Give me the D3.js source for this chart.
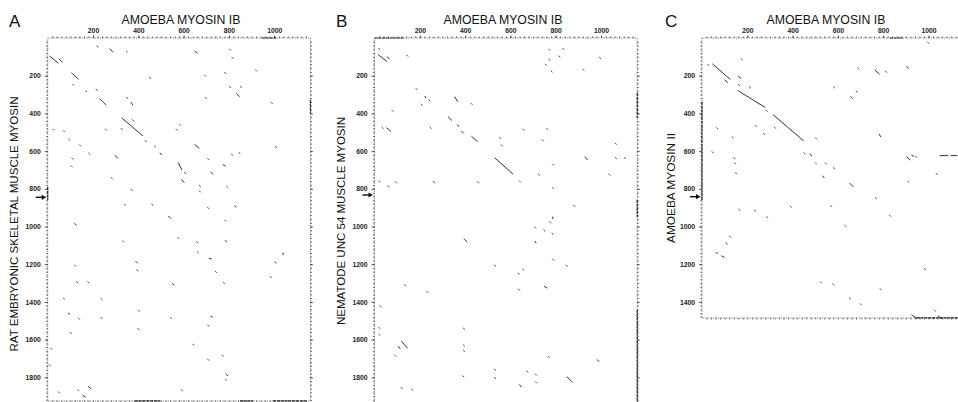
<!DOCTYPE html>
<html lang="en">
  <head>
    <meta charset="utf-8" />
    <title>Dot plots against amoeba myosin IB</title>
    <script src="https://d3js.org/d3.v7.min.js"></script>
    <style>
      body { margin: 0; background: #fff; }
      svg { display: block; font-family: 'Liberation Sans', Arial, sans-serif; }
      .tick text { font-size: 6.8px; font-weight: 700; fill: #222; opacity: 0.99; }
      .tick line { stroke: #333; stroke-width: 0.8; }
      .domain { display: none; }
    </style>
  </head>

  <body>
    <svg width="958" height="402"></svg>
  </body>
  <script>
    // Axis text and tick labels
    const panelLetters = ['A', 'B', 'C'];
    const xTitle = 'AMOEBA MYOSIN IB';
    const yTitles = [
      'RAT EMBRYONIC SKELETAL MUSCLE MYOSIN',
      'NEMATODE UNC 54 MUSCLE MYOSIN',
      'AMOEBA MYOSIN II'
    ];
    const xTicks = [200, 400, 600, 800, 1000];
    const yTicksA = [200, 400, 600, 800, 1000, 1200, 1400, 1600, 1800];
    const yTicksB = [200, 400, 600, 800, 1000, 1200, 1400, 1600, 1800];
    const yTicksC = [200, 400, 600, 800, 1000, 1200, 1400];

    // Sequence lengths (residues) and the arrow on each y axis
    const lengthX = 1160;
    const lengthsY = [1925, 1966, 1485];
    const arrowsY = [845, 833, 842];

    // Diagonal runs of matches: [x1, y1, x2, y2] in residues
    const segmentsA = [
      [10, 97, 46, 133], [51, 111, 63, 127], [106, 186, 135, 218], [169, 281, 173, 285],
      [231, 324, 257, 354], [275, 58, 287, 74], [368, 342, 375, 354], [327, 424, 419, 518],
      [297, 623, 309, 637], [496, 610, 502, 619], [650, 566, 668, 584], [650, 71, 660, 80],
      [577, 663, 592, 699], [592, 752, 602, 766], [720, 711, 729, 722], [775, 672, 784, 679],
      [834, 295, 846, 310], [534, 946, 543, 957], [119, 985, 126, 992], [827, 890, 831, 897],
      [784, 1074, 790, 1082], [713, 1169, 722, 1172], [1038, 1141, 1040, 1150],
      [1004, 1187, 1008, 1194], [389, 1185, 396, 1194], [551, 1303, 557, 1310],
      [91, 1459, 98, 1466], [720, 1477, 727, 1480], [787, 1783, 795, 1792],
      [179, 1848, 190, 1860], [155, 1896, 166, 1905]
    ];
    const segmentsB = [
      [17, 89, 54, 124], [58, 100, 64, 110], [223, 310, 226, 317], [355, 313, 366, 336],
      [326, 419, 341, 437], [366, 460, 372, 469], [385, 495, 392, 504], [429, 522, 454, 549],
      [54, 477, 72, 495], [532, 637, 610, 720], [929, 631, 940, 646], [260, 761, 266, 769],
      [786, 950, 788, 959], [709, 1079, 713, 1088], [396, 1066, 408, 1082],
      [750, 1318, 761, 1326], [120, 1610, 145, 1645], [105, 1636, 113, 1648],
      [984, 1707, 991, 1716], [850, 1798, 873, 1825], [640, 1839, 649, 1851]
    ];
    const segmentsC = [
      [47, 138, 124, 219], [102, 223, 112, 237], [160, 202, 171, 214], [160, 280, 278, 368],
      [315, 408, 448, 545], [477, 615, 484, 626], [533, 732, 539, 741], [656, 311, 664, 320],
      [764, 170, 783, 191], [904, 152, 911, 161], [783, 511, 789, 524], [904, 630, 918, 647],
      [926, 621, 934, 628], [653, 771, 668, 789], [1051, 624, 1085, 624], [1100, 624, 1125, 624],
      [106, 1086, 112, 1093], [62, 1139, 68, 1142], [87, 1156, 97, 1163],
      [926, 1469, 948, 1487], [1043, 1475, 1058, 1487]
    ];

    // Single matches: [x, y] in residues
    const dotsA = [
      [113, 248], [216, 274], [220, 45], [349, 71], [351, 318], [452, 212], [378, 437],
      [257, 486], [327, 483], [25, 486], [72, 495], [95, 540], [143, 570], [184, 614],
      [433, 548], [474, 575], [109, 640], [106, 681], [283, 743], [371, 805], [584, 460],
      [570, 486], [695, 200], [699, 318], [709, 642], [606, 716], [672, 784], [672, 814],
      [793, 790], [814, 619], [846, 610], [805, 62], [816, 106], [805, 260], [853, 260],
      [920, 172], [784, 186], [989, 345], [1008, 578],
      [341, 884], [462, 884], [709, 902], [784, 969], [577, 1061], [334, 1079], [661, 1084],
      [662, 1137], [396, 1233], [121, 1208], [743, 1241], [985, 1268], [131, 1296],
      [179, 1296], [778, 1300], [72, 1383], [238, 1385], [138, 1489], [238, 1485],
      [403, 1447], [543, 1485], [709, 1526], [400, 1544], [102, 1565], [643, 1627],
      [15, 1648], [773, 1685], [709, 1707], [10, 1737], [787, 1813], [135, 1869],
      [50, 1880], [592, 1869]
    ];
    const dotsB = [
      [21, 58], [145, 94], [186, 271], [242, 331], [208, 354], [429, 350], [79, 386],
      [36, 477], [248, 477], [554, 530], [562, 570], [657, 486], [743, 543], [763, 483],
      [772, 62], [757, 142], [772, 115], [782, 177], [816, 98], [834, 58], [996, 106],
      [922, 168], [789, 672], [726, 725], [642, 761], [1066, 561], [1066, 637], [1106, 637],
      [1037, 725], [789, 796], [21, 761], [61, 787], [95, 766], [458, 766],
      [882, 890], [777, 978], [709, 1005], [750, 1022], [786, 1038], [789, 1176],
      [848, 1208], [532, 1208], [657, 1229], [637, 1250], [638, 1335], [135, 1312],
      [233, 1347], [27, 1424], [21, 1538], [21, 1574], [395, 1542], [395, 1631],
      [395, 1659], [91, 1685], [770, 1692], [675, 1769], [532, 1760], [532, 1804],
      [392, 1795], [713, 1786], [713, 1827], [120, 1857], [167, 1866]
    ];
    const dotsC = [
      [28, 143], [163, 249], [175, 113], [212, 262], [286, 386], [68, 479], [238, 467],
      [274, 509], [322, 476], [135, 527], [47, 606], [143, 638], [146, 665], [150, 718],
      [452, 612], [503, 532], [503, 665], [547, 665], [583, 691], [583, 262], [690, 161],
      [683, 285], [812, 179], [768, 850], [911, 762], [1036, 721], [999, 25], [945, 630],
      [165, 912], [234, 916], [288, 951], [392, 895], [570, 891], [633, 997], [830, 943],
      [124, 1054], [985, 1226], [525, 1296], [580, 1307], [789, 1333], [653, 1381],
      [702, 1413], [1029, 1447]
    ];

    // Darker stretches of the plot frame: [x1, y1, x2, y2] in residues
    const edgesA = [
      [946, 0, 1012, 0], [1160, 329, 1160, 398], [0, 790, 0, 859],
      [385, 1925, 496, 1925], [849, 1925, 907, 1925], [995, 1925, 1145, 1925]
    ];
    const edgesB = [
      [0, 0, 128, 0], [1160, 291, 1160, 424], [1160, 859, 1160, 950], [1160, 1443, 1160, 1966]
    ];
    const edgesC = [
      [830, 0, 887, 0], [0, 340, 0, 860], [948, 1485, 1160, 1485]
    ];

    const svg = d3.select('svg');

    // Pixel layout of the three panels
    const lefts = [47.7, 374.5, 702];
    const plotTop = 38;
    const pxPerResX = 0.2265;
    const pxPerResY = 0.1885;
    const titleX = [181, 503, 826];
    const letterX = [9, 336, 665];
    const yTitleX = [14, 341, 671];
    const yTitleMid = [224, 221, 188];
    const yTitleLen = [255, 208, 110];

    const panels = [
      { yTicks: yTicksA, segs: segmentsA, dots: dotsA, edges: edgesA },
      { yTicks: yTicksB, segs: segmentsB, dots: dotsB, edges: edgesB },
      { yTicks: yTicksC, segs: segmentsC, dots: dotsC, edges: edgesC }
    ];

    panels.forEach((p, i) => {
      const lenY = lengthsY[i];
      const x = d3.scaleLinear()
            .domain([0, lengthX])
            .range([lefts[i], lefts[i] + lengthX * pxPerResX]);
      const y = d3.scaleLinear()
            .domain([0, lenY])
            .range([plotTop, plotTop + lenY * pxPerResY]);
      const g = svg.append('g');
      const [x0, x1] = x.range();
      const [y0, y1] = y.range();

      // dotted frame
      g.append('rect')
        .attr('x', x0).attr('y', y0)
        .attr('width', x1 - x0).attr('height', y1 - y0)
        .attr('fill', 'none')
        .attr('stroke', '#555')
        .attr('stroke-width', 0.7)
        .attr('stroke-dasharray', '1.4 1.2');

      // minor ticks every 20 residues
      const minorX = d3.range(20, lengthX, 20);
      const minorY = d3.range(20, lenY, 20);
      g.append('g').attr('transform', `translate(0, ${y0})`)
        .call(d3.axisTop(x).tickValues(minorX).tickSize(1.5).tickFormat(''));
      g.append('g').attr('transform', `translate(0, ${y1})`)
        .call(d3.axisBottom(x).tickValues(minorX).tickSize(1.5).tickFormat(''));
      g.append('g').attr('transform', `translate(${x0}, 0)`)
        .call(d3.axisLeft(y).tickValues(minorY).tickSize(1.5).tickFormat(''));
      g.append('g').attr('transform', `translate(${x1}, 0)`)
        .call(d3.axisRight(y).tickValues(minorY).tickSize(1.5).tickFormat(''));

      // labelled ticks
      g.append('g').attr('transform', `translate(0, ${y0})`)
        .call(d3.axisTop(x).tickValues(xTicks).tickSize(2.5).tickPadding(3).tickFormat(d3.format('d')));
      g.append('g').attr('transform', `translate(${x0}, 0)`)
        .call(d3.axisLeft(y).tickValues(p.yTicks).tickSize(3).tickPadding(4).tickFormat(d3.format('d')));
      g.append('g').attr('transform', `translate(${x1}, 0)`)
        .call(d3.axisRight(y).tickValues(p.yTicks).tickSize(2.5).tickFormat(''));

      g.selectAll('.tick line').attr('stroke', '#333');
      g.selectAll('.tick text').attr('fill', '#222');

      // heavier bits of the frame
      g.selectAll('line.edge')
        .data(p.edges)
        .join('line')
        .attr('class', 'edge')
        .attr('x1', d => x(d[0])).attr('y1', d => y(d[1]))
        .attr('x2', d => x(d[2])).attr('y2', d => y(d[3]))
        .attr('stroke', '#222')
        .attr('stroke-width', 1.2)
        .attr('stroke-dasharray', '3 0.8');

      // matching runs
      g.selectAll('line.seg')
        .data(p.segs)
        .join('line')
        .attr('class', 'seg')
        .attr('x1', d => x(d[0])).attr('y1', d => y(d[1]))
        .attr('x2', d => x(d[2])).attr('y2', d => y(d[3]))
        .attr('stroke', '#1a1a1a')
        .attr('stroke-width', 0.9)
        .attr('stroke-linecap', 'round');

      // single matches as tiny diagonal ticks
      g.selectAll('line.dot')
        .data(p.dots)
        .join('line')
        .attr('class', 'dot')
        .attr('x1', d => x(d[0]) - 0.6).attr('y1', d => y(d[1]) - 0.6)
        .attr('x2', d => x(d[0]) + 0.6).attr('y2', d => y(d[1]) + 0.6)
        .attr('stroke', '#444')
        .attr('stroke-width', 1)
        .attr('stroke-linecap', 'round');

      // arrow on the y axis
      const ay = y(arrowsY[i]);
      g.append('line')
        .attr('x1', x0 - 12).attr('y1', ay)
        .attr('x2', x0 - 5).attr('y2', ay)
        .attr('stroke', '#111').attr('stroke-width', 1.4);
      g.append('path')
        .attr('d', `M${x0 - 6},${ay - 2.6} L${x0 - 1.5},${ay} L${x0 - 6},${ay + 2.6} Z`)
        .attr('fill', '#111');

      // titles
      svg.append('text')
        .attr('x', letterX[i]).attr('y', 27)
        .attr('font-size', 17)
        .attr('fill', '#111')
        .text(panelLetters[i]);
      svg.append('text')
        .attr('x', titleX[i]).attr('y', 24)
        .attr('text-anchor', 'middle')
        .attr('font-size', 12.3)
        .attr('fill', '#111')
        .text(xTitle);
      svg.append('text')
        .attr('transform', `translate(${yTitleX[i]}, ${yTitleMid[i]}) rotate(-90)`)
        .attr('text-anchor', 'middle')
        .attr('dominant-baseline', 'central')
        .attr('font-size', 11.5)
        .attr('fill', '#111')
        .attr('textLength', yTitleLen[i])
        .attr('lengthAdjust', 'spacingAndGlyphs')
        .text(yTitles[i]);
    });
  </script>
</html>
